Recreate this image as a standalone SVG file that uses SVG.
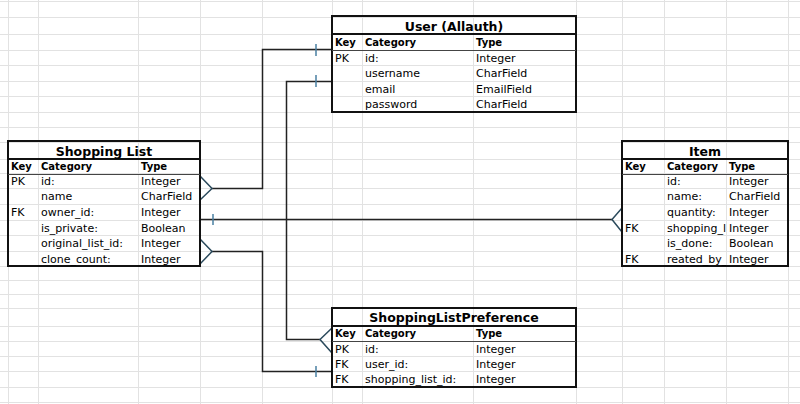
<svg xmlns="http://www.w3.org/2000/svg" width="800" height="404" viewBox="0 0 800 404">
<defs>
<style>
.grid{stroke:#e2e2e2;stroke-width:1;fill:none}
.tbl{fill:none;stroke:#111;stroke-width:2}
.hdr{stroke:#444;stroke-width:1}
.ttl{font-family:"DejaVu Sans",Verdana,sans-serif;font-weight:bold;font-size:12.5px;fill:#000;text-anchor:middle}
.th{font-family:"DejaVu Sans",Verdana,sans-serif;font-weight:bold;font-size:10px;fill:#000}
.td{font-family:"DejaVu Sans",Verdana,sans-serif;font-size:11px;fill:#000}
.conn{fill:none;stroke:#222;stroke-width:1.5}
.crow{fill:none;stroke:#2b4a5c;stroke-width:1.5}
.tick{stroke:#4a80a3;stroke-width:1.5}
</style>
<clipPath id="itemCat"><rect x="664" y="174" width="62" height="92"/></clipPath>
</defs>
<rect width="800" height="404" fill="#fff"/>
<path class="grid" d="M8.5 0V404M38.5 0V404M138.5 0V404M200.5 0V404M262.5 0V404M332.5 0V404M362.5 0V404M473.5 0V404M576.5 0V404M622.5 0V404M664.5 0V404M726.5 0V404M788.5 0V404
M0 1.5H800M0 17.5H800M0 34.5H800M0 50.5H800M0 65.5H800M0 81.5H800M0 96.5H800M0 112.5H800M0 127.5H800M0 142.5H800M0 159.5H800M0 173.5H800M0 188.5H800M0 204.5H800M0 220.5H800M0 235.5H800M0 251.5H800M0 266.5H800M0 280.5H800M0 294.5H800M0 308.5H800M0 326.5H800M0 341.5H800M0 356.5H800M0 371.5H800M0 387.5H800M0 402.5H800"/>

<g id="connectors">
<path class="conn" d="M332 49.5H262.5V188.5H212"/>
<path class="conn" d="M332 81.5H286.5V339.5H320"/>
<path class="conn" d="M200 219.5H612"/>
<path class="conn" d="M212 251.5H262.5V371.5H332"/>
<path class="tick" d="M316 44V56M316 75V87M213 214V225M316 366V377"/>
<path class="crow" d="M200 176L212 188.5L200 200M200 239L212 251.5L200 264M332 328L320 339.5L332 353M622 208L612 219.5L622 232"/>
</g>

<g id="user">
<rect class="tbl" x="332" y="16" width="244" height="96"/>
<line class="tbl" x1="332" y1="34" x2="576" y2="34"/>
<line class="hdr" x1="332" y1="50.5" x2="576" y2="50.5"/>
<text class="ttl" x="454" y="30.5">User (Allauth)</text>
<text class="th" x="335" y="46">Key</text>
<text class="th" x="365" y="46">Category</text>
<text class="th" x="476" y="46">Type</text>
<text class="td" x="335" y="61.5">PK</text>
<text class="td" x="365" y="61.5">id:</text>
<text class="td" x="476" y="61.5">Integer</text>
<text class="td" x="365" y="77">username</text>
<text class="td" x="476" y="77">CharField</text>
<text class="td" x="365" y="92.5">email</text>
<text class="td" x="476" y="92.5">EmailField</text>
<text class="td" x="365" y="108">password</text>
<text class="td" x="476" y="108">CharField</text>
</g>

<g id="shopping-list">
<rect class="tbl" x="8" y="141" width="192" height="125"/>
<line class="tbl" x1="8" y1="159" x2="200" y2="159"/>
<line class="hdr" x1="8" y1="174.5" x2="200" y2="174.5"/>
<text class="ttl" x="104" y="155.5">Shopping List</text>
<text class="th" x="11" y="170">Key</text>
<text class="th" x="41" y="170">Category</text>
<text class="th" x="141" y="170">Type</text>
<text class="td" x="11" y="184.5">PK</text>
<text class="td" x="41" y="184.5">id:</text>
<text class="td" x="141" y="184.5">Integer</text>
<text class="td" x="41" y="200">name</text>
<text class="td" x="141" y="200">CharField</text>
<text class="td" x="11" y="215.5">FK</text>
<text class="td" x="41" y="215.5">owner_id:</text>
<text class="td" x="141" y="215.5">Integer</text>
<text class="td" x="41" y="231.5">is_private:</text>
<text class="td" x="141" y="231.5">Boolean</text>
<text class="td" x="41" y="247">original_list_id:</text>
<text class="td" x="141" y="247">Integer</text>
<text class="td" x="41" y="262.5">clone_count:</text>
<text class="td" x="141" y="262.5">Integer</text>
</g>

<g id="item">
<rect class="tbl" x="622" y="141" width="166" height="125"/>
<line class="tbl" x1="622" y1="159" x2="788" y2="159"/>
<line class="hdr" x1="622" y1="174.5" x2="788" y2="174.5"/>
<text class="ttl" x="705" y="155.5">Item</text>
<text class="th" x="625" y="170">Key</text>
<text class="th" x="667" y="170">Category</text>
<text class="th" x="729" y="170">Type</text>
<text class="td" x="667" y="184.5">id:</text>
<text class="td" x="729" y="184.5">Integer</text>
<text class="td" x="667" y="200">name:</text>
<text class="td" x="729" y="200">CharField</text>
<text class="td" x="667" y="215.5">quantity:</text>
<text class="td" x="729" y="215.5">Integer</text>
<text class="td" x="625" y="231.5">FK</text>
<text class="td" x="667" y="231.5" clip-path="url(#itemCat)">shopping_l</text>
<text class="td" x="729" y="231.5">Integer</text>
<text class="td" x="667" y="247">is_done:</text>
<text class="td" x="729" y="247">Boolean</text>
<text class="td" x="625" y="262.5">FK</text>
<text class="td" x="667" y="262.5" clip-path="url(#itemCat)">reated_by_</text>
<text class="td" x="729" y="262.5">Integer</text>
</g>

<g id="shopping-list-preference">
<rect class="tbl" x="332" y="308" width="244" height="79"/>
<line class="tbl" x1="332" y1="326" x2="576" y2="326"/>
<line class="hdr" x1="332" y1="341.5" x2="576" y2="341.5"/>
<text class="ttl" x="454" y="321.5">ShoppingListPreference</text>
<text class="th" x="335" y="337">Key</text>
<text class="th" x="365" y="337">Category</text>
<text class="th" x="476" y="337">Type</text>
<text class="td" x="335" y="352.5">PK</text>
<text class="td" x="365" y="352.5">id:</text>
<text class="td" x="476" y="352.5">Integer</text>
<text class="td" x="335" y="367.5">FK</text>
<text class="td" x="365" y="367.5">user_id:</text>
<text class="td" x="476" y="367.5">Integer</text>
<text class="td" x="335" y="382.5">FK</text>
<text class="td" x="365" y="382.5">shopping_list_id:</text>
<text class="td" x="476" y="382.5">Integer</text>
</g>
</svg>
